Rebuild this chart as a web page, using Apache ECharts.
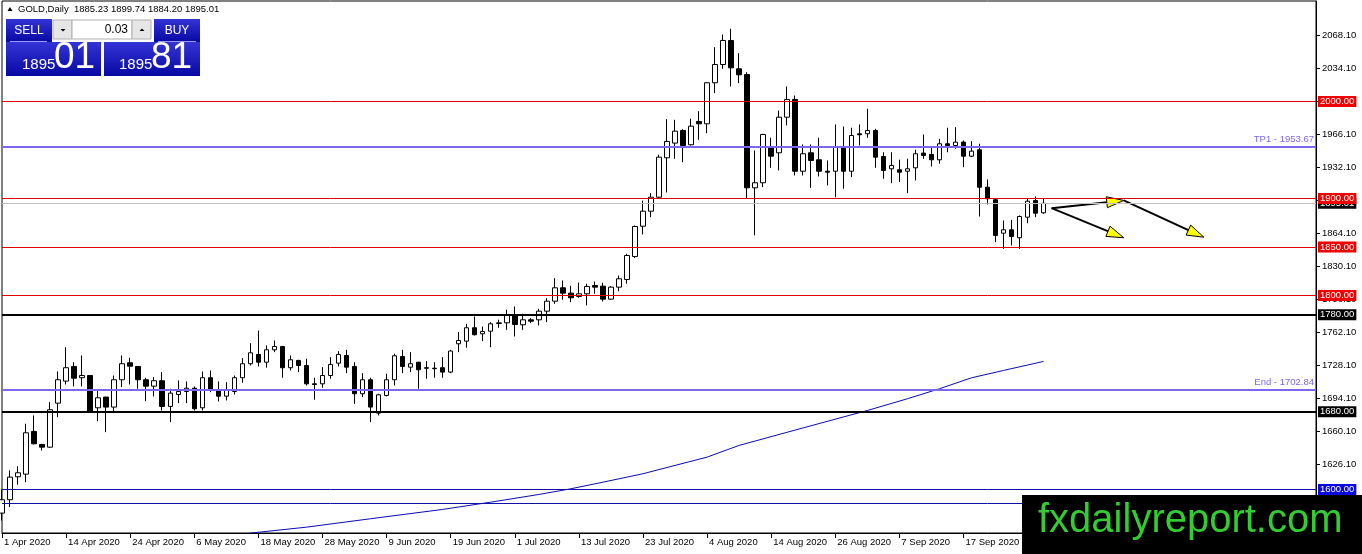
<!DOCTYPE html>
<html><head><meta charset="utf-8">
<script src="https://cdn.jsdelivr.net/npm/echarts@6/dist/echarts.min.js"></script>
<style>html,body{margin:0;padding:0;background:#fff;overflow:hidden}#c{width:1362px;height:554px}</style>
</head><body><div id="c"></div>
<script>
// ---- data ----
const opens = [1575.6,1589.4,1613.1,1615.8,1659.8,1646.4,1643.6,1689.0,1711.7,1726.8,1715.2,1717.5,1684.2,1695.2,1684.9,1713.1,1730.6,1726.8,1713.1,1706.5,
1712.1,1685.6,1697.9,1701.0,1704.4,1684.2,1715.2,1702.1,1696.2,1701.0,1715.2,1729.6,1739.2,1731.2,1744.0,1747.4,1725.5,1733.0,1727.8,1708.9,
1708.9,1717.5,1730.2,1738.1,1726.8,1698.7,1713.1,1678.7,1696.9,1713.1,1737.1,1726.1,1731.2,1725.5,1725.0,1725.5,1721.0,1750.2,1752.9,1766.7,
1760.5,1763.2,1771.1,1771.8,1779.4,1769.8,1774.9,1774.9,1783.8,1794.1,1807.9,1802.4,1799.0,1801.7,1810.3,1809.6,1796.2,1808.6,1816.5,1840.2,
1871.4,1886.9,1901.3,1942.0,1957.1,1970.1,1955.4,1979.4,1977.0,2019.3,2038.1,2062.9,2033.7,2027.8,1911.0,1916.2,1953.6,1947.1,1983.8,2002.1,
1928.1,1947.1,1939.9,1928.1,1928.1,1952.9,1928.1,1966.7,1966.7,1970.1,1943.3,1930.6,1929.6,1928.1,1931.6,1946.8,1945.4,1939.9,1956.4,1954.6,
1958.1,1943.6,1950.2,1911.6,1898.7,1864.2,1867.7,1859.5,1880.7,1897.9,1885.23];
const highs = [1600.0,1619.6,1624.0,1667.7,1676.3,1647.0,1690.0,1721.6,1746.7,1731.2,1738.1,1718.0,1702.0,1695.5,1717.5,1738.1,1735.8,1727.0,1715.2,1715.8,
1720.9,1703.8,1712.4,1711.3,1706.2,1721.6,1722.7,1711.3,1710.6,1717.5,1735.4,1750.8,1763.9,1748.5,1753.6,1748.0,1738.1,1733.7,1734.7,1715.2,
1726.1,1736.4,1742.6,1744.0,1731.2,1719.9,1715.2,1698.7,1719.3,1739.9,1744.0,1741.6,1731.5,1732.3,1731.2,1736.4,1744.0,1762.2,1770.8,1778.4,
1768.0,1772.5,1775.0,1785.3,1788.7,1781.1,1776.6,1786.3,1797.2,1817.8,1815.5,1810.0,1813.4,1812.1,1814.4,1813.1,1809.6,1820.6,1843.0,1872.2,
1897.9,1905.5,1945.1,1981.8,1981.1,1971.4,1982.2,1990.0,2019.9,2056.0,2069.1,2075.0,2049.8,2030.2,1949.5,1966.7,1962.6,1990.7,2015.5,2006.2,
1955.7,1955.7,1962.6,1939.2,1976.3,1974.2,1972.9,1976.3,1992.5,1971.8,1947.7,1947.7,1940.0,1941.0,1950.2,1966.0,1953.6,1961.5,1972.9,1973.5,
1959.8,1959.1,1956.4,1919.6,1899.7,1877.3,1878.0,1882.5,1899.7,1902.1,1899.74];
const lows = [1568.0,1581.8,1604.9,1607.5,1646.4,1640.2,1643.0,1674.5,1708.2,1706.2,1706.2,1679.0,1670.4,1659.1,1678.7,1705.5,1708.2,1703.8,1691.0,1695.9,
1681.4,1669.4,1689.0,1689.0,1681.4,1681.4,1700.3,1690.7,1691.8,1697.9,1710.0,1727.8,1726.8,1725.5,1741.6,1715.2,1722.7,1720.9,1707.2,1692.5,
1704.8,1714.1,1726.8,1719.9,1688.3,1695.2,1669.4,1676.3,1695.9,1707.2,1719.9,1720.9,1703.8,1714.1,1715.2,1715.2,1719.9,1741.6,1746.1,1758.8,
1752.9,1746.7,1766.7,1764.6,1757.7,1764.6,1771.5,1769.1,1772.5,1791.4,1795.6,1793.1,1797.6,1789.7,1801.7,1793.8,1795.6,1804.4,1812.1,1838.5,
1862.9,1880.7,1899.7,1906.2,1940.9,1937.4,1954.6,1960.5,1967.3,2008.6,2033.7,2015.5,2018.9,1899.7,1861.9,1911.7,1931.6,1928.9,1975.3,1923.7,
1923.7,1911.0,1922.7,1913.4,1901.3,1910.0,1922.0,1954.6,1962.6,1931.6,1920.3,1915.8,1917.0,1905.5,1918.6,1940.9,1933.0,1935.8,1947.7,1951.2,
1932.3,1942.6,1881.4,1893.8,1855.0,1848.1,1851.5,1848.1,1874.5,1880.7,1884.20];
const closes = [1589.4,1612.7,1617.2,1658.4,1647.1,1643.6,1682.2,1713.1,1725.5,1714.7,1717.5,1679.7,1694.5,1684.9,1713.1,1729.6,1727.1,1713.1,1706.5,1712.1,
1685.6,1699.3,1701.0,1704.4,1683.2,1715.2,1702.1,1696.2,1702.1,1715.2,1729.6,1740.9,1731.2,1744.0,1747.4,1725.5,1733.7,1727.8,1708.9,1708.2,
1717.5,1728.9,1739.2,1726.1,1698.7,1713.1,1684.9,1697.6,1713.1,1737.8,1726.8,1729.6,1723.4,1725.0,1724.5,1721.0,1742.7,1753.6,1766.7,1759.5,
1762.9,1770.8,1771.8,1780.4,1770.1,1774.9,1773.5,1783.8,1794.1,1807.9,1802.4,1797.6,1801.7,1809.3,1808.6,1796.2,1808.6,1817.2,1841.2,1871.1,
1886.9,1901.3,1942.6,1958.8,1969.4,1954.6,1974.5,1977.0,2019.3,2038.1,2062.9,2034.7,2027.5,1911.0,1916.2,1966.0,1943.6,1983.8,2002.1,1928.1,
1946.1,1939.2,1928.1,1927.1,1952.9,1928.1,1964.9,1965.7,1970.1,1942.6,1928.9,1934.0,1927.1,1930.6,1946.1,1944.3,1939.9,1956.4,1954.6,1958.1,
1943.6,1948.8,1911.6,1899.7,1861.9,1867.7,1860.8,1881.4,1897.2,1884.8,1895.01];

// moving average: bar index and value at points
const maIndex  = [31, 38, 46, 55, 61, 67, 71, 75, 80, 88, 92, 100, 108, 113, 117, 121, 125, 130];
const maValues = [1555.0,1561.1,1569.8,1579.4,1586.9,1594.8,1600.7,1607.5,1616.2,1633.3,1645.4,1663.5,1681.4,1693.5,1703.8,1715.1,1722.7,1732.0];

// y-axis tick labels
const yTicks = [1592.1,1626.1,1660.1,1694.1,1728.1,1762.1,1796.1,1830.1,1864.1,1898.1,1932.1,1966.1,2000.1,2034.1,2068.1];

// horizontal levels
const redLevels = [2000, 1900, 1850, 1800];
const blackLevels = [1780, 1680];
const blueLevels = [1600];
const navyPlainLevels = [1585.3];
const targetNames = ['TP1', 'End'];
const targetLevels = [1953.67, 1702.84];
const currentPrice = 1895.01;
const lastBar = {o: '1885.23', h: '1899.74', l: '1884.20', c: '1895.01'};

// arrows: [fromIndex, fromPrice, toIndex, toPrice]
const arrowFromX = [131, 131, 140];
const arrowFromY = [1890, 1890, 1898];
const arrowToX   = [140, 140, 150];
const arrowToY   = [1859.5, 1898, 1860.1];

// ---- calendar (trading days, Good Friday skipped) ----
const MONTHS = ['Jan','Feb','Mar','Apr','May','Jun','Jul','Aug','Sep','Oct','Nov','Dec'];
const skipDays = ['2020-04-10'];
const TOTAL_SLOTS = 165;
function buildDates(n) {
  const out = [];
  const d = new Date(Date.UTC(2020, 3, 1));
  while (out.length < n) {
    const wd = d.getUTCDay();
    const iso = d.toISOString().slice(0, 10);
    if (wd !== 0 && wd !== 6 && skipDays.indexOf(iso) < 0) {
      out.push(d.getUTCDate() + ' ' + MONTHS[d.getUTCMonth()] + ' ' + d.getUTCFullYear());
    }
    d.setUTCDate(d.getUTCDate() + 1);
  }
  return out;
}
const dates = buildDates(TOTAL_SLOTS);

// ---- chart ----
const FONT = "'Liberation Sans', Arial, sans-serif";
const Y_MIN = 1555.1, Y_MAX = 2103.6;

const candleData = opens.map((o, i) => [o, closes[i], lows[i], highs[i]]);
const maData = maIndex.map((x, k) => [x, maValues[k]]);
const arrowData = arrowFromX.map((x, k) => [x, arrowFromY[k], arrowToX[k], arrowToY[k]]);

function boxLabel(bg, text) {
  return {show: true, position: 'end', distance: 2, formatter: text, backgroundColor: bg, color: '#fff',
    fontSize: 9.5, fontFamily: FONT, padding: [1, 2, 0, 2], lineHeight: 10};
}
const ml = [];
ml.push({yAxis: currentPrice, lineStyle: {color: '#c0c0c0', width: 1, type: 'solid'}, label: boxLabel('#000', currentPrice.toFixed(2))});
navyPlainLevels.forEach(v => ml.push({yAxis: v, lineStyle: {color: '#1010a8', width: 1, type: 'solid'}, label: {show: false}}));
blueLevels.forEach(v => ml.push({yAxis: v, lineStyle: {color: '#1010a8', width: 1, type: 'solid'}, label: boxLabel('#0a0ae0', v.toFixed(2))}));
blackLevels.forEach(v => ml.push({yAxis: v, lineStyle: {color: '#000', width: 2, type: 'solid'}, label: boxLabel('#000', v.toFixed(2))}));
targetLevels.forEach((v, k) => ml.push({yAxis: v, lineStyle: {color: '#7b68ee', width: 2, type: 'solid'},
  label: {show: true, position: 'insideEndTop', distance: 2, formatter: targetNames[k] + ' - ' + v.toFixed(2), color: '#7b68ee', fontSize: 9.5, fontFamily: FONT}}));
redLevels.forEach(v => ml.push({yAxis: v, lineStyle: {color: '#e00000', width: 1, type: 'solid'}, label: boxLabel('#f00000', v.toFixed(2))}));

const blueGrad = {type: 'linear', x: 0, y: 0, x2: 0, y2: 1, colorStops: [{offset: 0, color: '#3434d6'}, {offset: 1, color: '#0808a2'}]};

const graphic = [
  // header
  {type: 'polygon', z: 50, shape: {points: [[7.5, 11], [12.5, 11], [10, 7]]}, style: {fill: '#000'}},
  {type: 'text', z: 50, x: 18, y: 9, style: {text: 'GOLD,Daily  ' + lastBar.o + ' ' + lastBar.h + ' ' + lastBar.l + ' ' + lastBar.c,
    font: '9.5px ' + FONT, fill: '#000', verticalAlign: 'middle'}},
  // trade panel
  {type: 'rect', z: 50, shape: {x: 6, y: 19, width: 46, height: 23}, style: {fill: blueGrad}},
  {type: 'rect', z: 51, shape: {x: 10, y: 41, width: 37, height: 1}, style: {fill: '#9a9af0'}},
  {type: 'text', z: 52, x: 29, y: 30.5, style: {text: 'SELL', font: '12px ' + FONT, fill: '#fff', align: 'center', verticalAlign: 'middle'}},
  {type: 'rect', z: 50, shape: {x: 53, y: 20, width: 19, height: 19}, style: {fill: '#e6e6e6', stroke: '#b0b0b0', lineWidth: 1}},
  {type: 'polygon', z: 51, shape: {points: [[60.5, 29], [65.5, 29], [63, 31.5]]}, style: {fill: '#000'}},
  {type: 'rect', z: 50, shape: {x: 72, y: 20, width: 60, height: 19}, style: {fill: '#fff', stroke: '#b0b0b0', lineWidth: 1}},
  {type: 'text', z: 51, x: 128, y: 30, style: {text: '0.03', font: '12px ' + FONT, fill: '#000', align: 'right', verticalAlign: 'middle'}},
  {type: 'rect', z: 50, shape: {x: 132, y: 20, width: 19, height: 19}, style: {fill: '#e6e6e6', stroke: '#b0b0b0', lineWidth: 1}},
  {type: 'polygon', z: 51, shape: {points: [[139.5, 31], [144.5, 31], [142, 28.5]]}, style: {fill: '#000'}},
  {type: 'rect', z: 50, shape: {x: 154, y: 19, width: 46, height: 23}, style: {fill: blueGrad}},
  {type: 'rect', z: 51, shape: {x: 158, y: 41, width: 38, height: 1}, style: {fill: '#9a9af0'}},
  {type: 'text', z: 52, x: 177, y: 30.5, style: {text: 'BUY', font: '12px ' + FONT, fill: '#fff', align: 'center', verticalAlign: 'middle'}},
  {type: 'rect', z: 50, shape: {x: 6, y: 42, width: 95, height: 34}, style: {fill: blueGrad}},
  {type: 'text', z: 52, x: 22, y: 72, style: {text: '1895', font: '15px ' + FONT, fill: '#fff', verticalAlign: 'bottom'}},
  {type: 'text', z: 52, x: 54, y: 76, style: {text: '01', font: '37px ' + FONT, fill: '#fff', verticalAlign: 'bottom'}},
  {type: 'rect', z: 50, shape: {x: 104, y: 42, width: 96, height: 34}, style: {fill: blueGrad}},
  {type: 'text', z: 52, x: 119, y: 72, style: {text: '1895', font: '15px ' + FONT, fill: '#fff', verticalAlign: 'bottom'}},
  {type: 'text', z: 52, x: 151, y: 76, style: {text: '81', font: '37px ' + FONT, fill: '#fff', verticalAlign: 'bottom'}},
  // watermark
  {type: 'rect', z: 100, shape: {x: 1022, y: 495, width: 340, height: 59}, style: {fill: '#000'}},
  {type: 'text', z: 101, x: 1038, y: 521, style: {text: 'fxdailyreport.com', font: '40px ' + FONT, fill: '#33cc33', verticalAlign: 'middle'}}
];

const option = {
  animation: false,
  backgroundColor: '#fff',
  grid: {left: 2, right: 46, top: 1, bottom: 21, show: true, borderColor: '#000', borderWidth: 1, backgroundColor: '#fff'},
  xAxis: {
    type: 'category', data: dates, boundaryGap: false,
    axisLine: {lineStyle: {color: '#000', width: 1}},
    axisTick: {interval: 7, length: 5, lineStyle: {color: '#000'}},
    axisLabel: {interval: 7, align: 'left', margin: 4, padding: [0, 0, 0, 2], color: '#000', fontSize: 9.5, fontFamily: FONT},
    splitLine: {show: false}
  },
  yAxis: {
    type: 'value', position: 'right', min: Y_MIN, max: Y_MAX,
    axisLine: {show: true, lineStyle: {color: '#000'}},
    axisTick: {show: true, length: 4, customValues: yTicks, lineStyle: {color: '#000'}},
    axisLabel: {customValues: yTicks, formatter: v => Number(v).toFixed(2), margin: 6, color: '#000', fontSize: 9.5, fontFamily: FONT},
    splitLine: {show: false}
  },
  series: [
    {type: 'candlestick', data: candleData, barWidth: 5, clip: false, z: 2,
      itemStyle: {color: '#fff', color0: '#000', borderColor: '#000', borderColor0: '#000', borderWidth: 1}},
    {type: 'line', data: maData, symbol: 'none', z: 3, lineStyle: {color: '#0a0ab0', width: 1},
      markLine: {silent: true, symbol: ['none', 'none'], animation: false, data: ml}},
    {type: 'custom', data: arrowData, encode: {x: [0, 2], y: [1, 3]}, z: 4, clip: false,
      renderItem: function (params, api) {
        const p1 = api.coord([api.value(0), api.value(1)]);
        const p2 = api.coord([api.value(2), api.value(3)]);
        const dx = p2[0] - p1[0], dy = p2[1] - p1[1];
        const len = Math.hypot(dx, dy) || 1;
        const ux = dx / len, uy = dy / len;
        const hl = 17, hw = 5.5;
        const bx = p2[0] - ux * hl, by = p2[1] - uy * hl;
        return {type: 'group', children: [
          {type: 'line', shape: {x1: p1[0], y1: p1[1], x2: bx + ux * 3, y2: by + uy * 3}, style: {stroke: '#000', lineWidth: 2}},
          {type: 'polygon', shape: {points: [[p2[0], p2[1]], [bx - uy * hw, by + ux * hw], [bx + uy * hw, by - ux * hw]]},
            style: {fill: '#ffff00', stroke: '#000', lineWidth: 1}}
        ]};
      }}
  ],
  graphic: graphic
};
const chart = echarts.init(document.getElementById('c'), null, {renderer: 'canvas'});
chart.setOption(option);
</script>
</body></html>
